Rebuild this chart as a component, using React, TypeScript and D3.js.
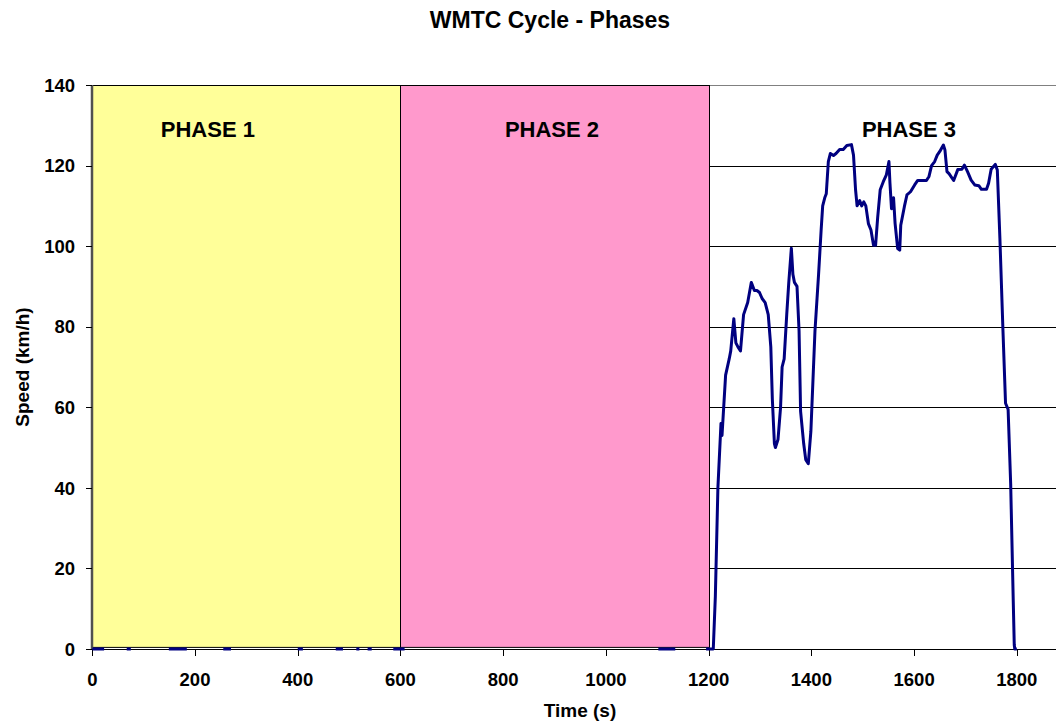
import React from 'react';
import * as d3 from 'd3';

// phase boundaries (s) and labels
const phaseStarts = [0, 600];
const phaseEnds = [600, 1200];
const phaseColors = ['#FFFF99', '#FF99CC'];
const phaseNames = ['PHASE 1', 'PHASE 2', 'PHASE 3'];
const phaseLabelTimes = [225, 895, 1590];

// idle periods visible at 0 km/h in phases 1 and 2
const idleStarts = [0, 67, 149, 255, 400, 474, 514, 536, 586, 1102];
const idleEnds = [23, 75, 184, 270, 410, 488, 520, 544, 608, 1135];

// phase 3 trace (time s, speed km/h)
const times = [
  1195, 1209, 1213, 1218, 1224, 1226, 1233, 1240, 1243, 1249, 1253, 1257, 1262, 1268,
  1276, 1283, 1289, 1294, 1299, 1304, 1310, 1316, 1321, 1324, 1328, 1330, 1335, 1340,
  1343, 1347, 1352, 1356, 1361, 1364, 1367, 1372, 1376, 1379, 1385, 1389, 1394, 1399,
  1407, 1414, 1419, 1422, 1426, 1429, 1433, 1437, 1443, 1448, 1455, 1462, 1469, 1478,
  1482, 1486, 1489, 1494, 1498, 1502, 1506, 1511, 1516, 1521, 1525, 1529, 1534, 1540,
  1546, 1551, 1553, 1556, 1560, 1563, 1568, 1572, 1574, 1581, 1586, 1593, 1601, 1607,
  1624, 1629, 1634, 1640, 1645, 1650, 1657, 1660, 1664, 1668, 1677, 1685, 1693, 1698,
  1704, 1711, 1718, 1726, 1731, 1741, 1745, 1750, 1758, 1762, 1767, 1773, 1778, 1783,
  1788, 1793, 1795, 1796, 1800,
];
const speeds = [
  0, 0, 13, 40, 56, 53, 68, 72, 74, 82, 76, 75, 74, 83,
  86, 91, 89, 89, 88.5, 87, 86, 83, 75, 62, 51, 50, 52, 60,
  70, 72, 83, 91, 99.5, 93, 91, 90, 79, 59, 51, 47, 46, 54,
  79, 93, 104, 110, 112, 113, 121, 123, 122.5, 123, 124, 124, 125, 125.2,
  122.6, 114, 110, 111.3, 110, 111, 110, 105.6, 104, 100.2, 100.2, 107, 114, 116,
  117.7, 121, 115.6, 109.3, 112, 105.6, 99.4, 99, 105.2, 109.8, 112.7, 113.5, 115.2, 116.3,
  116.3, 117.3, 120, 121, 122.6, 123.5, 125.1, 123.9, 118.5, 118, 116.3, 119, 119.1, 120.1,
  118.5, 116.4, 115.2, 115, 114.1, 114.1, 115.6, 119.1, 120.3, 118.9, 102, 79, 61, 59.5,
  41, 12, 1, 0, 0,
];

const xTicks = [0, 200, 400, 600, 800, 1000, 1200, 1400, 1600, 1800];
const yTicks = [0, 20, 40, 60, 80, 100, 120, 140];

const W = 1056;
const H = 723;
const FONT = 'Arial, "Liberation Sans", sans-serif';

export default function App() {
  const x = d3.scaleLinear().domain([0, 1900]).range([92.3, 1068.2]);
  const y = d3.scaleLinear().domain([0, 140]).range([649, 85]);

  const line = d3
    .line<number>()
    .x((_, i) => x(times[i]))
    .y((d) => y(d));

  const left = x(0);
  const right = x(1900);

  return (
    <svg
      width={W}
      height={H}
      style={{ position: 'absolute', left: 0, top: 0, background: '#fff' }}
      fontFamily={FONT}
    >
      <text x={550} y={28} textAnchor="middle" fontSize={23} fontWeight="bold">
        WMTC Cycle - Phases
      </text>

      {/* gridlines */}
      {yTicks.slice(1, -1).map((t) => (
        <line
          key={'g' + t}
          x1={left}
          x2={right}
          y1={Math.round(y(t)) + 0.5}
          y2={Math.round(y(t)) + 0.5}
          stroke="#000"
          strokeWidth={1}
        />
      ))}
      <line x1={left} x2={right} y1={85.5} y2={85.5} stroke="#808080" strokeWidth={1} />

      {/* phase backgrounds */}
      {phaseStarts.map((s, i) => (
        <rect
          key={'p' + i}
          x={Math.round(x(s)) + 0.5}
          y={85.5}
          width={Math.round(x(phaseEnds[i])) - Math.round(x(s))}
          height={y(0.4) - 85.5}
          fill={phaseColors[i]}
          stroke="#000"
          strokeWidth={1}
        />
      ))}

      {/* phase labels */}
      {phaseNames.map((n, i) => (
        <text
          key={n}
          x={x(phaseLabelTimes[i])}
          y={137}
          textAnchor="middle"
          fontSize={22}
          fontWeight="bold"
        >
          {n}
        </text>
      ))}

      {/* axes */}
      <line x1={left} x2={right} y1={649.5} y2={649.5} stroke="#000" strokeWidth={1} />
      <line x1={92} x2={92} y1={85} y2={650} stroke="#505050" strokeWidth={2.5} />
      {yTicks.map((t) => (
        <g key={'y' + t}>
          <line x1={86} x2={92} y1={Math.round(y(t)) + 0.5} y2={Math.round(y(t)) + 0.5} stroke="#000" />
          <text x={75} y={y(t)} dy="0.36em" textAnchor="end" fontSize={18.5} fontWeight="bold">
            {t}
          </text>
        </g>
      ))}
      {xTicks.map((t) => (
        <g key={'x' + t}>
          <line x1={Math.round(x(t)) + 0.5} x2={Math.round(x(t)) + 0.5} y1={649} y2={656} stroke="#000" />
          <text x={x(t)} y={686} textAnchor="middle" fontSize={18.5} fontWeight="bold">
            {t}
          </text>
        </g>
      ))}

      {/* idle segments */}
      {idleStarts.map((s, i) => (
        <line
          key={'i' + i}
          x1={x(s)}
          x2={x(idleEnds[i])}
          y1={y(0)}
          y2={y(0)}
          stroke="#000080"
          strokeWidth={3}
        />
      ))}

      {/* speed trace */}
      <path
        d={line(speeds) || ''}
        fill="none"
        stroke="#000080"
        strokeWidth={3}
        strokeLinejoin="round"
      />

      <text x={580} y={717} textAnchor="middle" fontSize={19} fontWeight="bold">
        Time (s)
      </text>
      <text
        transform={`translate(29, ${(y(0) + y(140)) / 2}) rotate(-90)`}
        textAnchor="middle"
        fontSize={19}
        fontWeight="bold"
      >
        Speed (km/h)
      </text>
    </svg>
  );
}
